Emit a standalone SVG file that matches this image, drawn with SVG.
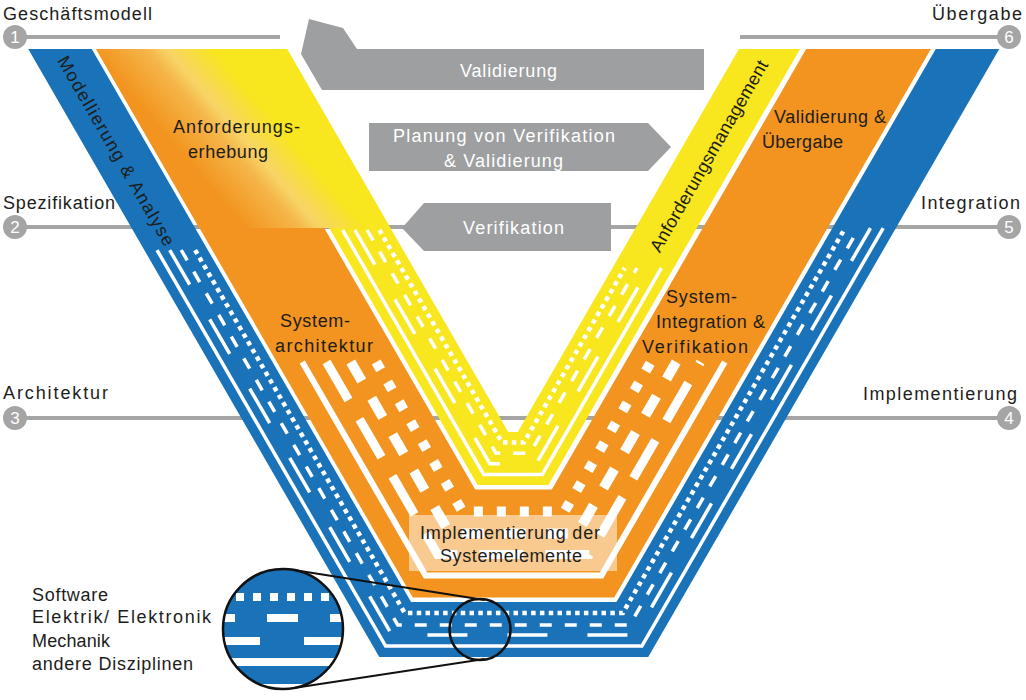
<svg xmlns="http://www.w3.org/2000/svg" width="1026" height="700" viewBox="0 0 1026 700">
<defs>
<style>
.t{font-family:"Liberation Sans",Arial,sans-serif;font-size:18px;fill:#1d1d1b}
.tw{font-family:"Liberation Sans",Arial,sans-serif;font-size:18px;fill:#ffffff}
.num{font-family:"Liberation Sans",Arial,sans-serif;font-size:17px;fill:#ffffff;text-anchor:middle}
.lvl{stroke:#a5a5a5;stroke-width:4;fill:none}
.dot{fill:#a5a5a5}
.band{fill:none;stroke-linejoin:miter;stroke-miterlimit:10}
.s{fill:none;stroke:#ffffff;stroke-linejoin:miter;stroke-miterlimit:10}
.arrow{fill:#9e9fa1}
.blue{stroke:#1a73b8}
.orange{stroke:#f2941f}
.yellow{stroke:#f8e61e}
</style>
<clipPath id="top"><rect x="0" y="49" width="1026" height="651"/></clipPath>
<clipPath id="mag"><circle cx="283" cy="629" r="60"/></clipPath>
<linearGradient id="grad" gradientUnits="userSpaceOnUse" x1="195" y1="170" x2="265" y2="110">
<stop offset="0" stop-color="#f2941f"/>
<stop offset="0.45" stop-color="#f5b649"/>
<stop offset="0.62" stop-color="#f8d466"/>
<stop offset="1" stop-color="#f8e61e"/>
</linearGradient>
</defs>

<g id="connectors">
<line class="lvl" x1="15" y1="37" x2="280" y2="37"/>
<line class="lvl" x1="740" y1="37" x2="1009" y2="37"/>
<line class="lvl" x1="15" y1="227" x2="1009" y2="227"/>
<line class="lvl" x1="15" y1="418" x2="1009" y2="418"/>
</g>

<g id="level-markers">
<circle class="dot" cx="15" cy="37" r="12"/><text class="num" x="15" y="43">1</text>
<circle class="dot" cx="15" cy="227" r="12"/><text class="num" x="15" y="233">2</text>
<circle class="dot" cx="15" cy="418" r="12"/><text class="num" x="15" y="424">3</text>
<circle class="dot" cx="1009" cy="418" r="12"/><text class="num" x="1009" y="424">4</text>
<circle class="dot" cx="1009" cy="227" r="12"/><text class="num" x="1009" y="233">5</text>
<circle class="dot" cx="1009" cy="37" r="12"/><text class="num" x="1009" y="43">6</text>
<text class="t" x="3" y="20" font-size="17" textLength="149">Geschäftsmodell</text>
<text class="t" x="3" y="209" font-size="17" textLength="112">Spezifikation</text>
<text class="t" x="3" y="399" font-size="17" textLength="105">Architektur</text>
<text class="t" x="932" y="20" font-size="17" textLength="90">Übergabe</text>
<text class="t" x="921" y="209" font-size="17" textLength="99">Integration</text>
<text class="t" x="863" y="400" font-size="17" textLength="154">Implementierung</text>
</g>

<g id="band-blue">
<path class="band blue" clip-path="url(#top)" stroke-width="55" d="M31.71,0 L395.15,629.5 L632.35,629.5 L995.79,0"/>
<path class="s" stroke-width="3.5" d="M157,250 L385.63,646 L641.87,646 L883.2,228"/>
<path class="s" stroke-width="3.5" stroke-dasharray="40 40" d="M169.7,250 L391.98,635 L635.52,635 L870.5,228"/>
<path class="s" stroke-width="3.5" stroke-dasharray="12 13" d="M181.25,250 L397.75,625 L629.75,625 L858.95,228"/>
<path class="s" stroke-width="4.5" stroke-dasharray="4.5 4.3" d="M195.1,250 L404.68,613 L622.82,613 L845.1,228"/>
<text class="t" transform="translate(116,151) rotate(60)" x="0" y="6" text-anchor="middle" textLength="216">Modellierung &amp; Analyse</text>
</g>

<g id="band-orange">
<path class="band orange" clip-path="url(#top)" stroke-width="108" d="M130.21,0 L444,543.5 L583,543.5 L896.79,0"/>
</g>

<g id="band-yellow">
<path class="band yellow" clip-path="url(#top)" stroke-width="53" d="M228.21,0 L492.92,458.5 L533.08,458.5 L797.79,0"/>
<polygon fill="url(#grad)" points="96,49 287,49 390.3,228 199.3,228"/>
<path class="s" stroke-width="3.5" d="M342.64,230 L483.75,474.4 L542.25,474.4 L661.42,268"/>
<path class="s" stroke-width="3.5" stroke-dasharray="40 40" d="M354.88,230 L489.86,463.8 L536.14,463.8 L649.18,268"/>
<path class="s" stroke-width="3.5" stroke-dasharray="12 13" d="M367.12,230 L495.98,453.2 L530.02,453.2 L636.94,268"/>
<path class="s" stroke-width="4.5" stroke-dasharray="4.5 4.3" d="M379.36,230 L502.11,442.6 L523.89,442.6 L624.7,268"/>
<text class="t" x="173" y="133" textLength="127">Anforderungs-</text>
<text class="t" x="188" y="158" textLength="80">erhebung</text>
<text class="t" transform="translate(709,156) rotate(-60)" x="0" y="6" text-anchor="middle" textLength="218">Anforderungsmanagement</text>
</g>

<g id="orange-stripes">
<path class="s" stroke-width="6" d="M302.26,362 L425.53,575.5 L601.47,575.5 L724.74,362"/>
<path class="s" stroke-width="9" stroke-dasharray="44 22" d="M326.5,362 L437.65,554.5 L589.35,554.5 L700.5,362"/>
<path class="s" stroke-width="10" stroke-dasharray="22 20" d="M350.76,362 L449.78,533.5 L577.22,533.5 L676.24,362"/>
<path class="s" stroke-width="10" stroke-dasharray="9 14" d="M376.16,362 L462.47,511.5 L564.53,511.5 L650.84,362"/>
<text class="t" x="280" y="327" textLength="70">System-</text>
<text class="t" x="275" y="352" textLength="98">architektur</text>
<text class="t" x="774" y="123" textLength="112">Validierung &amp;</text>
<text class="t" x="762" y="148" textLength="81">Übergabe</text>
<text class="t" x="666" y="303" textLength="71">System-</text>
<text class="t" x="656" y="328" textLength="109">Integration &amp;</text>
<text class="t" x="642" y="353" textLength="106">Verifikation</text>
</g>

<g id="implementierung">
<rect x="409" y="515" width="208" height="56" fill="#ffffff" fill-opacity="0.5"/>
<text class="t" x="420" y="539" textLength="180">Implementierung der</text>
<text class="t" x="440" y="562" textLength="142">Systemelemente</text>
</g>

<g id="arrow-validierung">
<polygon class="arrow" points="309,19 343,28 357,49 704,49 704,90 322,90 301,54"/>
<text class="tw" x="460" y="77" textLength="97">Validierung</text>
</g>
<g id="arrow-planung">
<polygon class="arrow" points="369,123 648,123 671,147 648,171 369,171"/>
<text class="tw" x="393" y="142" textLength="222">Planung von Verifikation</text>
<text class="tw" x="444" y="167" textLength="119">&amp; Validierung</text>
</g>
<g id="arrow-verifikation">
<polygon class="arrow" points="402,228 424,203 611,203 611,251 424,251"/>
<text class="tw" x="463" y="234" textLength="101">Verifikation</text>
</g>

<g id="legend">
<text class="t" x="32" y="601" textLength="76">Software</text>
<text class="t" x="32" y="623" textLength="179">Elektrik/ Elektronik</text>
<text class="t" x="32" y="647" textLength="78">Mechanik</text>
<text class="t" x="32" y="670" textLength="161">andere Disziplinen</text>
<g clip-path="url(#mag)">
<rect x="220" y="565" width="130" height="130" fill="#ffffff"/>
<rect x="220" y="565" width="130" height="119" fill="#1a73b8"/>
<g fill="#ffffff">
<rect x="236" y="593" width="8" height="8"/><rect x="253" y="593" width="8" height="8"/><rect x="270" y="593" width="8" height="8"/>
<rect x="287" y="593" width="8" height="8"/><rect x="304" y="593" width="8" height="8"/><rect x="321" y="593" width="8" height="8"/>
<rect x="218" y="614" width="17" height="8"/><rect x="267" y="614" width="31" height="8"/><rect x="330" y="614" width="20" height="8"/>
<rect x="218" y="637" width="42" height="8"/><rect x="304" y="637" width="46" height="8"/>
<rect x="218" y="658" width="132" height="8"/>
</g>
</g>
<circle cx="283" cy="629" r="60" fill="none" stroke="#111" stroke-width="2.5"/>
<circle cx="480" cy="629.5" r="30.5" fill="none" stroke="#111" stroke-width="2.5"/>
<line x1="292.1" y1="569.7" x2="484.6" y2="599.9" stroke="#111" stroke-width="2"/>
<line x1="292.1" y1="688.3" x2="484.6" y2="659.1" stroke="#111" stroke-width="2"/>
</g>
</svg>
